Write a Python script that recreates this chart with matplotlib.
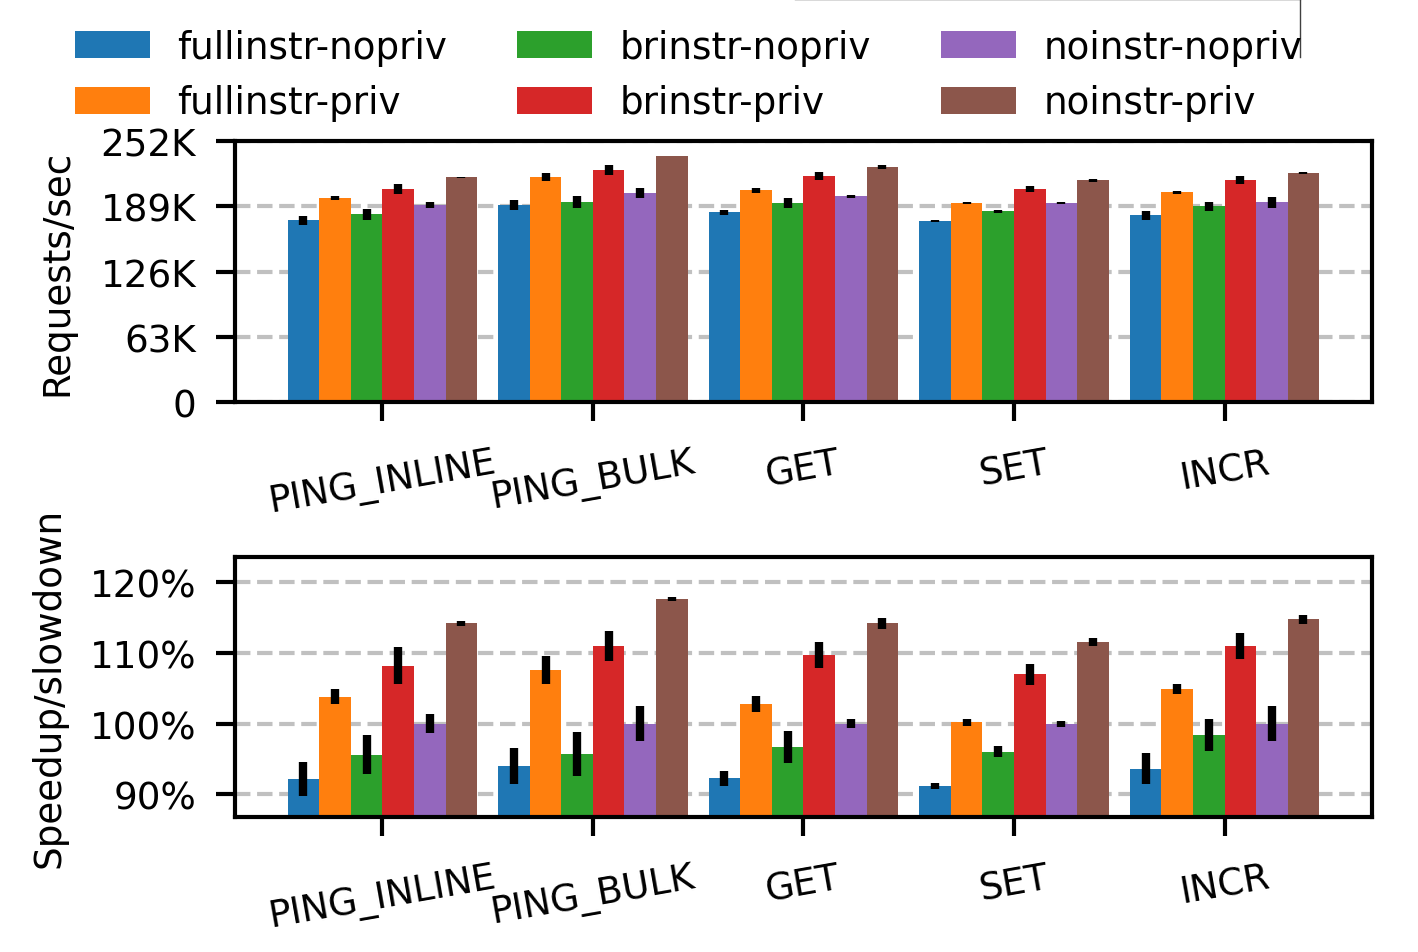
import matplotlib
matplotlib.use("Agg")
import matplotlib.pyplot as plt
from matplotlib.lines import Line2D
from matplotlib.ticker import FixedLocator, FuncFormatter
import numpy as np

benchmarks = ["PING_INLINE", "PING_BULK", "GET", "SET", "INCR"]
configs = ["fullinstr-nopriv", "fullinstr-priv", "brinstr-nopriv",
           "brinstr-priv", "noinstr-nopriv", "noinstr-priv"]
colors = ["#1f77b4", "#ff7f0e", "#2ca02c", "#d62728", "#9467bd", "#8c564b"]

# requests/sec (thousands)
rps_fullinstr_nopriv = [175.4, 190.0, 183.2, 174.5, 180.3]
rps_fullinstr_priv = [196.8, 217.1, 204.5, 191.9, 202.6]
rps_brinstr_nopriv = [181.2, 192.9, 191.9, 184.2, 189.0]
rps_brinstr_priv = [205.5, 223.9, 218.1, 205.5, 214.2]
rps_noinstr_nopriv = [190.0, 201.6, 198.7, 191.9, 192.9]
rps_noinstr_priv = [217.1, 237.5, 226.8, 214.2, 221.0]

rps_err_fullinstr_nopriv = [4.4, 5.0, 2.3, 0.8, 4.2]
rps_err_fullinstr_priv = [2.0, 4.0, 2.4, 1.0, 1.6]
rps_err_brinstr_nopriv = [5.0, 6.0, 4.8, 1.6, 4.5]
rps_err_brinstr_priv = [5.0, 4.5, 4.0, 2.9, 3.7]
rps_err_noinstr_nopriv = [2.7, 5.0, 1.3, 0.8, 5.2]
rps_err_noinstr_priv = [0.5, 0.3, 1.6, 1.3, 1.1]

# speedup relative to noinstr-nopriv (%)
rel_fullinstr_nopriv = [92.2, 94.0, 92.3, 91.2, 93.6]
rel_fullinstr_priv = [103.8, 107.6, 102.8, 100.2, 104.9]
rel_brinstr_nopriv = [95.6, 95.7, 96.7, 96.0, 98.4]
rel_brinstr_priv = [108.2, 111.0, 109.7, 107.0, 111.0]
rel_noinstr_nopriv = [100.0, 100.0, 100.0, 100.0, 100.0]
rel_noinstr_priv = [114.2, 117.6, 114.2, 111.6, 114.8]

rel_err_fullinstr_nopriv = [2.4, 2.6, 1.06, 0.4, 2.2]
rel_err_fullinstr_priv = [1.06, 2.0, 1.15, 0.5, 0.7]
rel_err_brinstr_nopriv = [2.76, 3.1, 2.3, 0.78, 2.3]
rel_err_brinstr_priv = [2.6, 2.1, 1.84, 1.46, 1.9]
rel_err_noinstr_nopriv = [1.35, 2.5, 0.6, 0.4, 2.45]
rel_err_noinstr_priv = [0.4, 0.3, 0.73, 0.6, 0.64]

rps = [rps_fullinstr_nopriv, rps_fullinstr_priv, rps_brinstr_nopriv,
       rps_brinstr_priv, rps_noinstr_nopriv, rps_noinstr_priv]
rps_err = [rps_err_fullinstr_nopriv, rps_err_fullinstr_priv, rps_err_brinstr_nopriv,
           rps_err_brinstr_priv, rps_err_noinstr_nopriv, rps_err_noinstr_priv]
rel = [rel_fullinstr_nopriv, rel_fullinstr_priv, rel_brinstr_nopriv,
       rel_brinstr_priv, rel_noinstr_nopriv, rel_noinstr_priv]
rel_err = [rel_err_fullinstr_nopriv, rel_err_fullinstr_priv, rel_err_brinstr_nopriv,
           rel_err_brinstr_priv, rel_err_noinstr_nopriv, rel_err_noinstr_priv]

rps_ticks = [0, 63, 126, 189, 252]
rel_ticks = [90, 100, 110, 120]

plt.rcParams["font.size"] = 13.4

fig = plt.figure(figsize=(7.09, 4.765), dpi=200)
ax1 = fig.add_axes([0.1657, 0.577, 0.8018, 0.274])
ax2 = fig.add_axes([0.1657, 0.1417, 0.8018, 0.2728])

x = np.arange(len(benchmarks))
width = 0.15


def draw(ax, vals, errs, scale):
    for i, (v, e) in enumerate(zip(vals, errs)):
        pos = x + (i - 2.5) * width
        ax.bar(pos, np.array(v) * scale, width, color=colors[i], label=configs[i], zorder=2)
        ax.errorbar(pos, np.array(v) * scale, yerr=np.array(e) * scale, fmt="none",
                    ecolor="black", elinewidth=3, capsize=0, zorder=3)
    ax.set_xlim(-0.7, 4.7)
    ax.set_xticks(x)
    ax.set_xticklabels(benchmarks, rotation=10)
    ax.set_axisbelow(True)
    ax.yaxis.grid(True, linestyle="--", color="#c0c0c0", linewidth=1.5, zorder=0)
    for s in ax.spines.values():
        s.set_linewidth(1.5)
    ax.tick_params(axis="both", direction="out", length=7, width=1.5)
    ax.tick_params(axis="y", pad=7)
    ax.tick_params(axis="x", pad=8)


draw(ax1, rps, rps_err, 1000)
ax1.set_ylim(0, 252000)
ax1.yaxis.set_major_locator(FixedLocator([t * 1000 for t in rps_ticks]))
ax1.yaxis.set_major_formatter(FuncFormatter(lambda v, p: "0" if v == 0 else "%dK" % round(v / 1000)))
ax1.set_ylabel("Requests/sec", labelpad=9)

draw(ax2, rel, rel_err, 1)
ax2.set_ylim(86.8, 123.6)
ax2.yaxis.set_major_locator(FixedLocator(rel_ticks))
ax2.yaxis.set_major_formatter(FuncFormatter(lambda v, p: "%d%%" % round(v)))
ax2.set_ylabel("Speedup/slowdown", labelpad=8)

handles, labels = ax1.get_legend_handles_labels()
fig.legend(handles, labels, ncol=3,
           loc="upper left", bbox_to_anchor=(0.053, 0.969), frameon=False,
           borderpad=0, borderaxespad=0, handlelength=2.0, handleheight=0.73,
           handletextpad=0.75, columnspacing=1.88, labelspacing=0.5)

# stray legend frame fragment at the top edge
fig.add_artist(Line2D([795 / 1418, 1300 / 1418], [0.9995, 0.9995], color="#404040", lw=0.5))
fig.add_artist(Line2D([1300 / 1418, 1300 / 1418], [1.0, 1 - 58 / 953], color="#404040", lw=0.5))

fig.savefig("out.png", dpi=200)
